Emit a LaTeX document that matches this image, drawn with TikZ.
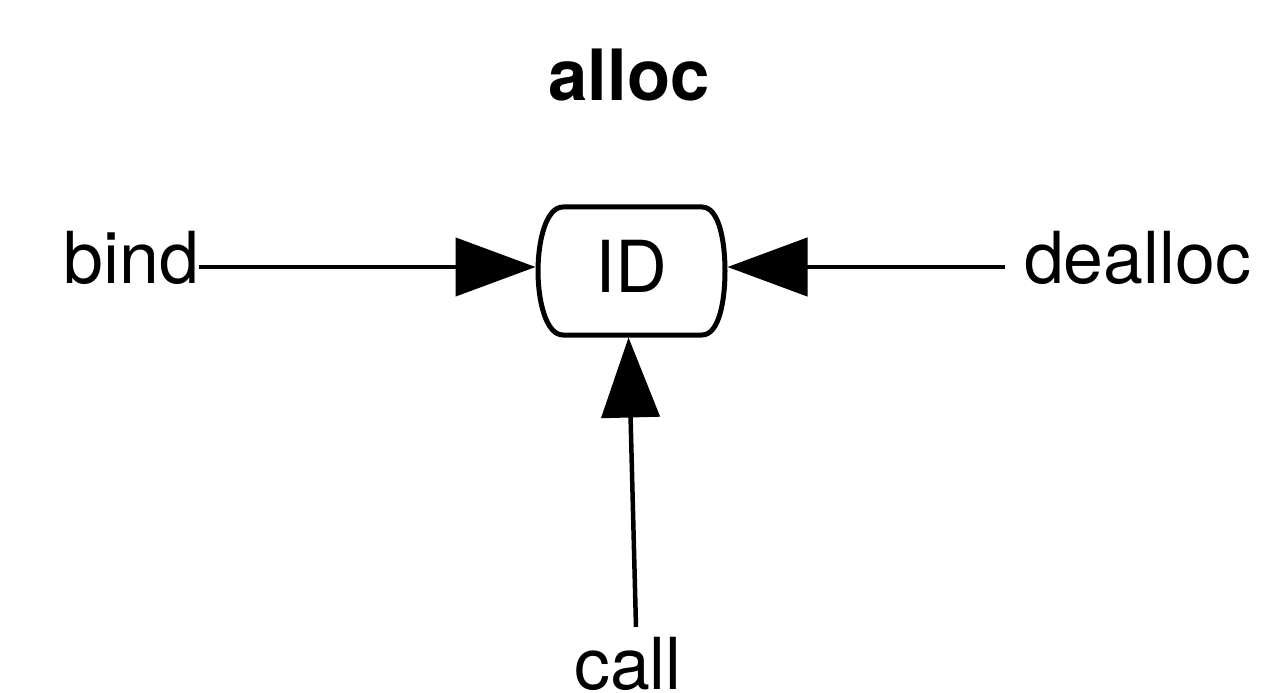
\documentclass[tikz,border=0pt]{standalone}
\usepackage{fontspec}
\setmainfont{TeX Gyre Heros}
\usetikzlibrary{arrows.meta,calc}
\begin{document}
\begin{tikzpicture}[x=1bp,y=-1bp,
  lbl/.style={inner sep=0pt, outer sep=0pt, font=\fontsize{72}{86}\selectfont},
  ttl/.style={inner sep=0pt, outer sep=0pt, font=\fontsize{71}{84}\selectfont\bfseries},
  idnode/.style={inner sep=0pt, outer sep=2.5bp, minimum width=187bp, minimum height=128bp,
    text height=52bp, text depth=10bp, font=\fontsize{72}{86}\selectfont},
  idline/.style={line width=5bp, line join=round},
  conn/.style={line width=4.5bp, -{Triangle[length=80bp,width=58bp]}}]
\useasboundingbox (0,0) rectangle (1269,693);

% title
\node[ttl, anchor=base] (title) at (629,101) {alloc};

% central identifier box
\node[idnode] (id) at (631.5,271) {ID};
\draw[idline]
  ($(id.center)+(-68.5,-64)$) -- ($(id.center)+(70.5,-64)$)
  .. controls +(17,0) and +(0,-30) .. ($(id.center)+(93.5,0)$)
  .. controls +(0,30) and +(17,0) .. ($(id.center)+(70.5,64)$)
  -- ($(id.center)+(-68.5,64)$)
  .. controls +(-17,0) and +(0,30) .. ($(id.center)+(-93.5,0)$)
  .. controls +(0,-30) and +(-17,0) .. cycle;

% operations
\node[lbl, anchor=base east] (bind) at (199,283) {bind};
\node[lbl, anchor=base west] (dealloc) at (1024,283) {dealloc};
\node[lbl, anchor=base] (call) at (628,689) {call};
\coordinate (callend) at (636,627);

% connectors into the box
\draw[conn] (bind.east |- 0,267) -- (id.west |- 0,267);
\draw[conn, shorten <=19bp] (dealloc.west |- 0,267) -- (id.east |- 0,267);
\draw[conn] (callend) -- ([xshift=-3bp]id.south);
\end{tikzpicture}
\end{document}
